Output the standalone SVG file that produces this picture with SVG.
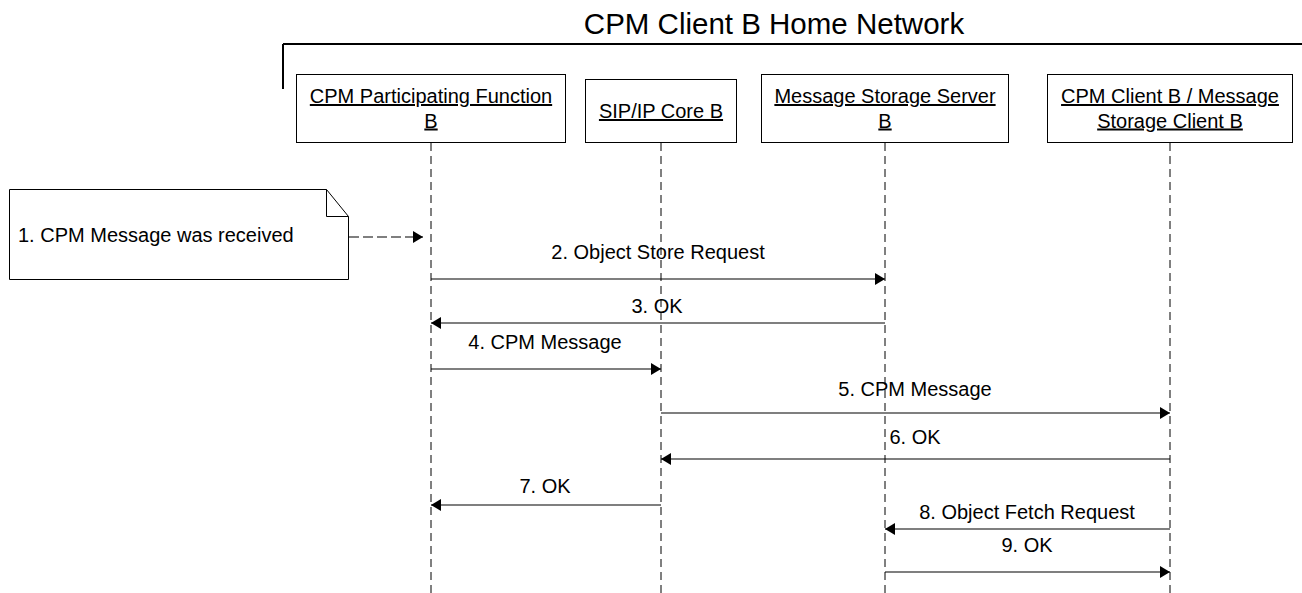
<svg xmlns="http://www.w3.org/2000/svg" width="1302" height="593" viewBox="0 0 1302 593">
<defs>
<marker id="ah" viewBox="0 0 10 12" refX="10" refY="6" markerWidth="10" markerHeight="12" markerUnits="userSpaceOnUse" orient="auto">
<path d="M0,0 L10,6 L0,12 Z" fill="#000"/>
</marker>
<style>
text{font-family:"Liberation Sans",Arial,sans-serif;fill:#000}
.t{font-size:29.5px}
.n{font-size:20px;text-anchor:middle;text-decoration:underline}
.l{font-size:20px;text-anchor:middle}
.box{fill:#fff;stroke:#000;stroke-width:1}
.life{stroke:#000;stroke-width:1;stroke-dasharray:8 5;fill:none}
.msg{stroke:#000;stroke-width:1.2;fill:none;marker-end:url(#ah)}
</style>
</defs>
<rect width="1302" height="593" fill="#fff"/>
<g id="frame">
<text class="t" x="774" y="34" text-anchor="middle">CPM Client B Home Network</text>
<path d="M283,44 H1302 M283,44 V89" stroke="#000" stroke-width="2" fill="none"/>
</g>
<g id="lifelines">
<line class="life" x1="431" y1="143" x2="431" y2="593"/>
<line class="life" x1="661" y1="143" x2="661" y2="593"/>
<line class="life" x1="885" y1="143" x2="885" y2="593"/>
<line class="life" x1="1170" y1="143" x2="1170" y2="593"/>
</g>
<g id="node-cpmpf">
<rect class="box" x="296.5" y="74.5" width="269" height="68"/>
<text class="n" x="431" y="103">CPM Participating Function</text>
<text class="n" x="431" y="127.5">B</text>
</g>
<g id="node-sipcore">
<rect class="box" x="585.5" y="79.5" width="151" height="63"/>
<text class="n" x="661" y="118">SIP/IP Core B</text>
</g>
<g id="node-mss">
<rect class="box" x="761.5" y="74.5" width="247" height="68"/>
<text class="n" x="885" y="103">Message Storage Server</text>
<text class="n" x="885" y="127.5">B</text>
</g>
<g id="node-client">
<rect class="box" x="1047.5" y="74.5" width="245" height="68"/>
<text class="n" x="1170" y="103">CPM Client B / Message</text>
<text class="n" x="1170" y="127.5">Storage Client B</text>
</g>
<g id="node-note">
<path d="M9.5,189.5 H326.5 L348.5,216.5 V279.5 H9.5 Z" fill="#fff" stroke="#000" stroke-width="1"/>
<path d="M326.5,189.5 V216.5 H348.5" fill="none" stroke="#000" stroke-width="1"/>
<text x="18" y="242" font-size="20">1. CPM Message was received</text>
</g>
<g id="connectors">
<line x1="349" y1="237" x2="423" y2="237" stroke="#000" stroke-width="1.2" stroke-dasharray="10 4" marker-end="url(#ah)"/>
<line class="msg" x1="431" y1="279" x2="885" y2="279"/>
<text class="l" x="658" y="259">2. Object Store Request</text>
<line class="msg" x1="885" y1="323" x2="431" y2="323"/>
<text class="l" x="657" y="313">3. OK</text>
<line class="msg" x1="431" y1="369" x2="661" y2="369"/>
<text class="l" x="545" y="349">4. CPM Message</text>
<line class="msg" x1="661" y1="413" x2="1170" y2="413"/>
<text class="l" x="915" y="396">5. CPM Message</text>
<line class="msg" x1="1170" y1="459" x2="661" y2="459"/>
<text class="l" x="915" y="444">6. OK</text>
<line class="msg" x1="661" y1="505" x2="431" y2="505"/>
<text class="l" x="545" y="493">7. OK</text>
<line class="msg" x1="1170" y1="529" x2="885" y2="529"/>
<text class="l" x="1027" y="519">8. Object Fetch Request</text>
<line class="msg" x1="885" y1="572" x2="1170" y2="572"/>
<text class="l" x="1027" y="552">9. OK</text>
</g>
</svg>
